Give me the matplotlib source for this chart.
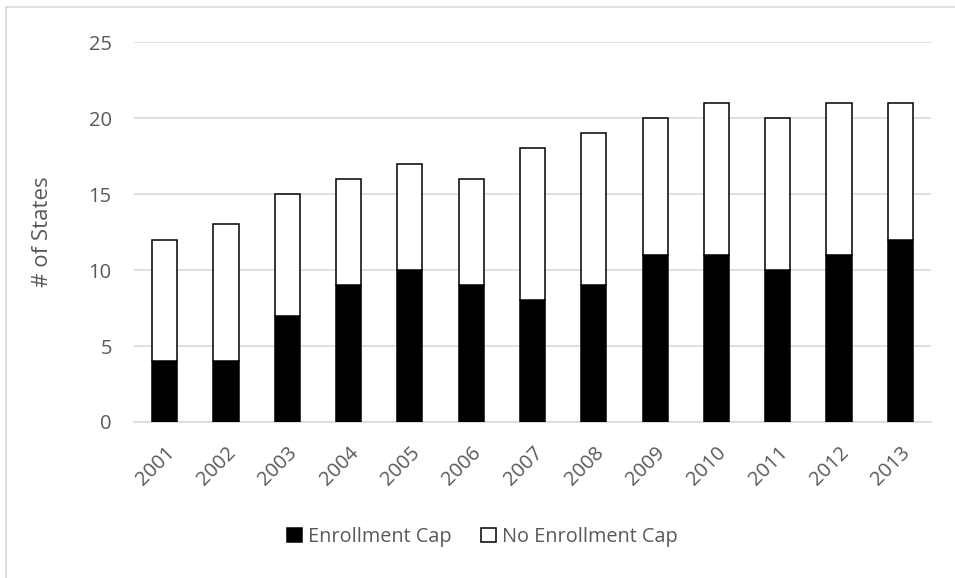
import matplotlib
matplotlib.use('Agg')
import matplotlib.pyplot as plt
import numpy as np

plt.rcParams['font.family'] = ['Open Sans', 'DejaVu Sans']

years = ['2001', '2002', '2003', '2004', '2005', '2006', '2007',
         '2008', '2009', '2010', '2011', '2012', '2013']
enrollment_cap = [4, 4, 7, 9, 10, 9, 8, 9, 11, 11, 10, 11, 12]
no_enrollment_cap = [8, 9, 8, 7, 7, 7, 10, 10, 9, 10, 10, 10, 9]

text_col = '#595959'
grid_col = '#d9d9d9'

fig = plt.figure(figsize=(9.55, 5.78), dpi=100)
ax = fig.add_axes([0.1403, 0.2699, 0.8346, 0.6574])

x = np.arange(len(years))
w = 0.41
ax.bar(x, enrollment_cap, w, color='black', edgecolor='black', linewidth=1.1,
       label='Enrollment Cap', zorder=3)
ax.bar(x, no_enrollment_cap, w, bottom=enrollment_cap, color='white',
       edgecolor='black', linewidth=1.1, label='No Enrollment Cap', zorder=3)

ax.set_xlim(-0.5, len(years) - 0.5)
ax.set_ylim(0, 25)
ax.set_yticks(np.arange(0, 26, 5))
ax.yaxis.grid(True, color=grid_col, linewidth=1.2, zorder=0)
ax.set_axisbelow(True)
for s in ['top', 'right', 'left']:
    ax.spines[s].set_visible(False)
ax.spines['bottom'].set_color(grid_col)
ax.spines['bottom'].set_linewidth(1.2)
ax.tick_params(axis='both', length=0, labelsize=14.5, labelcolor=text_col)
ax.tick_params(axis='y', pad=16)
ax.tick_params(axis='x', pad=15)
ax.set_xticks(x)
ax.set_xticklabels(years, rotation=45, ha='right', rotation_mode='anchor')
ax.set_ylabel('# of States', fontsize=16, color=text_col, labelpad=26)

fig.legend(loc='center', bbox_to_anchor=(0.505, 0.071), ncol=2, frameon=False,
           fontsize=14.3, labelcolor=text_col, handlelength=0.75,
           handleheight=0.75, handletextpad=0.3, columnspacing=1.5)

# thin outer frame
fig.add_artist(plt.Line2D([0.0063, 1.0], [0.988, 0.988], color=grid_col,
                          linewidth=1.2, transform=fig.transFigure))
fig.add_artist(plt.Line2D([0.0063, 0.0063], [0.0, 0.988], color=grid_col,
                          linewidth=1.2, transform=fig.transFigure))

fig.savefig('out.png', dpi=100)
